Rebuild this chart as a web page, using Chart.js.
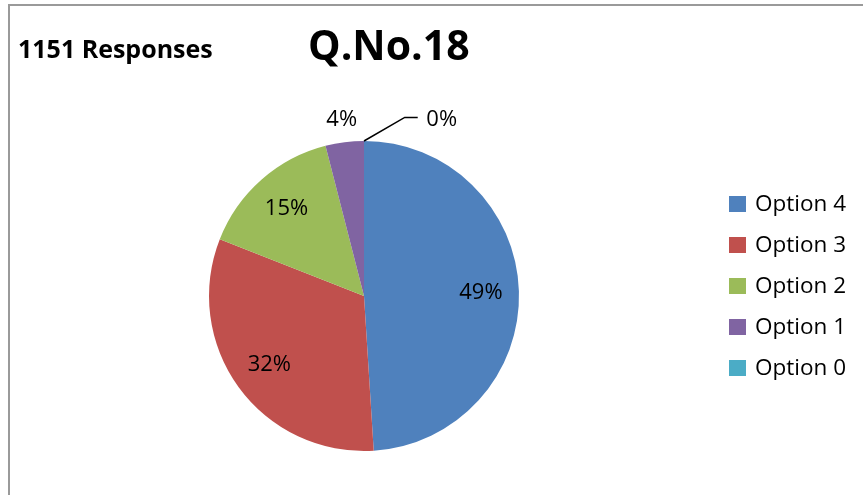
<!DOCTYPE html>
<html>
<head>
<meta charset="utf-8">
<script src="https://cdn.jsdelivr.net/npm/chart.js@4.4.0/dist/chart.umd.min.js"></script>
<style>
html,body{margin:0;padding:0;background:#fff;}
#wrap{position:relative;width:863px;height:495px;}
canvas{display:block;}
</style>
</head>
<body>
<div id="wrap"><canvas id="c" width="863" height="495"></canvas></div>
<script>
const categories = ["Option 4", "Option 3", "Option 2", "Option 1", "Option 0"];
const responses = [564, 368, 173, 46, 0];
const colors = ["#4F81BD", "#C0504D", "#9BBB59", "#8064A2", "#4BACC6"];
const titleText = "Q.No.18";
const subtitleText = "1151 Responses";

const FONT = "'Open Sans', 'Noto Sans', sans-serif";

const decorPlugin = {
  id: 'decor',
  beforeDraw(chart) {
    const ctx = chart.ctx;
    ctx.save();
    ctx.fillStyle = '#fff';
    ctx.fillRect(0, 0, chart.width, chart.height);
    ctx.strokeStyle = '#9a9a9a';
    ctx.lineWidth = 2;
    ctx.beginPath();
    ctx.moveTo(9, chart.height);
    ctx.lineTo(9, 5);
    ctx.lineTo(chart.width, 5);
    ctx.stroke();
    ctx.restore();
  },
  afterDraw(chart) {
    const ctx = chart.ctx;
    ctx.save();
    ctx.fillStyle = '#000';
    ctx.textBaseline = 'alphabetic';
    ctx.textAlign = 'left';
    ctx.font = "bold 25px " + FONT;
    ctx.fillText(subtitleText, 18, 58);
    ctx.font = "bold 41px " + FONT;
    ctx.fillText(titleText, 308, 60);

    // legend
    const lx = 729, ly0 = 204, step = 41;
    ctx.font = "22.5px " + FONT;
    ctx.textBaseline = 'middle';
    categories.forEach((c, i) => {
      const y = ly0 + i * step;
      ctx.fillStyle = colors[i];
      ctx.fillRect(lx, y - 8, 17, 16);
      ctx.fillStyle = '#000';
      ctx.fillText(c, lx + 26, y + 1);
    });

    // data labels
    const meta = chart.getDatasetMeta(0);
    const total = responses.reduce((a, b) => a + b, 0);
    ctx.font = "22px " + FONT;
    ctx.textAlign = 'center';
    ctx.textBaseline = 'middle';
    let prevOutside = null;
    meta.data.forEach((arc, i) => {
      const p = arc.getProps(['x', 'y', 'startAngle', 'endAngle', 'outerRadius'], true);
      const pct = Math.round(responses[i] / total * 100);
      const mid = (p.startAngle + p.endAngle) / 2;
      const label = pct + '%';
      ctx.fillStyle = '#000';
      if (pct >= 5) {
        const r = p.outerRadius * 0.755;
        ctx.fillText(label, p.x + Math.cos(mid) * r, p.y + Math.sin(mid) * r);
      } else {
        const r = p.outerRadius + 23;
        let tx = p.x + Math.cos(mid) * r;
        let ty = p.y + Math.sin(mid) * r;
        if (prevOutside && Math.abs(tx - prevOutside.x) < 50 && Math.abs(ty - prevOutside.y) < 30) {
          const ex = p.x + Math.cos(mid) * p.outerRadius;
          const ey = p.y + Math.sin(mid) * p.outerRadius;
          tx = prevOutside.x + 100;
          ty = prevOutside.y;
          ctx.strokeStyle = '#000';
          ctx.lineWidth = 1.5;
          ctx.beginPath();
          ctx.moveTo(ex, ey);
          ctx.lineTo(tx - 37, ty - 2);
          ctx.lineTo(tx - 24, ty - 2);
          ctx.stroke();
        }
        ctx.fillText(label, tx, ty);
        prevOutside = {x: tx, y: ty};
      }
    });
    ctx.restore();
  }
};

new Chart(document.getElementById('c'), {
  type: 'pie',
  data: {
    labels: categories,
    datasets: [{
      data: responses,
      backgroundColor: colors,
      borderWidth: 0
    }]
  },
  options: {
    responsive: false,
    animation: false,
    devicePixelRatio: 1,
    layout: { padding: { left: 209, right: 344, top: 141, bottom: 44 } },
    plugins: {
      legend: { display: false },
      title: { display: false },
      tooltip: { enabled: false }
    }
  },
  plugins: [decorPlugin]
});
</script>
</body>
</html>
